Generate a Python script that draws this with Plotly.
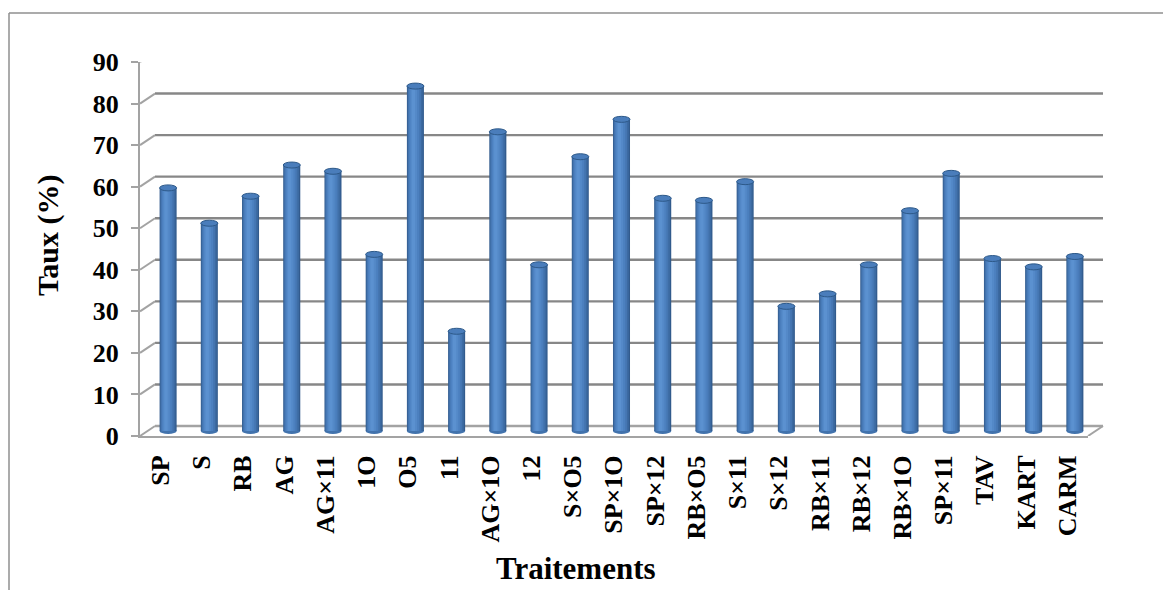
import plotly.graph_objects as go

# Germination rate per treatment
categories = ["SP", "S", "RB", "AG", "AG×11", "1O", "O5", "11", "AG×1O", "12",
              "S×O5", "SP×1O", "SP×12", "RB×O5", "S×11", "S×12", "RB×11", "RB×12",
              "RB×1O", "SP×11", "TAV", "KART", "CARM"]
taux = [58.5, 50, 56.5, 64, 62.5, 42.5, 83, 24, 72, 40,
        66, 75, 56, 55.5, 60, 30, 33, 40,
        53, 62, 41.5, 39.5, 42]
y_ticks = [0, 10, 20, 30, 40, 50, 60, 70, 80, 90]

W, H = 1163, 590
FONT = "Liberation Serif"

# pixel geometry of the pseudo-3D frame
FX0, FX1 = 140, 1088        # front plane (axes)
FY_TOP, FY_BOT = 62, 436
DX, DY = 15, 10             # depth offset of the back wall
px_per_unit = (FY_BOT - FY_TOP) / 90.0


def px_x(p):
    return p / W


def px_y(p):
    return 1 - p / H


fig = go.Figure()

# cylinder columns: stacked layers give a rounded shading
n = len(categories)
xs = list(range(n))
bar_w = 0.413
layers = [
    (bar_w, 0.0, "#325b8d"),
    (0.37, -0.008, "#3c6aa1"),
    (0.31, -0.02, "#4576b2"),
    (0.24, -0.03, "#4c80bf"),
    (0.16, -0.04, "#5489c8"),
    (0.08, -0.05, "#5b91d0"),
]
for w, c, col in layers:
    fig.add_trace(go.Bar(
        x=xs, y=taux, width=w, offset=c - w / 2,
        marker=dict(color=col, line=dict(width=0)),
        xaxis="x3", yaxis="y3", hoverinfo="skip", showlegend=False,
    ))

shapes = []
# bottom curve and top cap of every cylinder
for i, v in enumerate(taux):
    shapes.append(dict(type="circle", xref="x3", yref="y3", ysizemode="pixel",
                       yanchor=0, y0=-3, y1=3,
                       x0=i - bar_w / 2, x1=i + bar_w / 2,
                       fillcolor="#4273ad", line=dict(width=0), layer="below"))
    shapes.append(dict(type="circle", xref="x3", yref="y3", ysizemode="pixel",
                       yanchor=v, y0=-3, y1=3,
                       x0=i - bar_w / 2, x1=i + bar_w / 2,
                       fillcolor="#4a7dbb", line=dict(color="#2d5989", width=1),
                       layer="above"))

GRID = "#878787"
EDGE = "#a3a3a3"
# back-wall gridlines and the depth diagonals from the front axis
for t in y_ticks:
    shapes.append(dict(type="line", xref="paper", yref="y", ysizemode="pixel",
                       yanchor=t, x0=px_x(FX0 + DX), x1=px_x(FX1 + DX), y0=DY, y1=DY,
                       line=dict(color=GRID if t else EDGE, width=2.4), layer="below"))
    shapes.append(dict(type="line", xref="paper", yref="y", ysizemode="pixel",
                       yanchor=t, x0=px_x(FX0), x1=px_x(FX0 + DX), y0=0, y1=DY,
                       line=dict(color=EDGE, width=2), layer="below"))
# right edge of the floor
shapes.append(dict(type="line", xref="paper", yref="y", ysizemode="pixel",
                   yanchor=0, x0=px_x(FX1), x1=px_x(FX1 + DX), y0=0, y1=DY,
                   line=dict(color=EDGE, width=2), layer="below"))
# chart frame
shapes.append(dict(type="line", xref="paper", yref="paper",
                   x0=px_x(9), x1=1.02, y0=px_y(13), y1=px_y(13),
                   line=dict(color="#8f8f8f", width=1.5)))
shapes.append(dict(type="line", xref="paper", yref="paper",
                   x0=px_x(9), x1=px_x(9), y0=px_y(13), y1=-0.05,
                   line=dict(color="#8f8f8f", width=1.5)))

tick_font = dict(family=FONT, size=26, color="black", weight=700)
mid_bot = FY_BOT - DY / 2 + 10   # extend the column plane a little below zero

fig.update_layout(
    width=W, height=H,
    margin=dict(l=0, r=0, t=0, b=0, autoexpand=False),
    paper_bgcolor="white", plot_bgcolor="rgba(0,0,0,0)",
    barmode="overlay",
    showlegend=False,
    xaxis=dict(domain=[px_x(FX0), px_x(FX1)], anchor="y", type="linear",
               range=[-0.5, n - 0.5], tickmode="array",
               tickvals=xs, ticktext=categories, tickangle=-90,
               tickfont=tick_font, ticks="", ticklabelstandoff=7,
               showgrid=False, zeroline=False,
               showline=True, linecolor=EDGE, linewidth=2, automargin=False),
    xaxis2=dict(domain=[px_x(FX0), px_x(FX1)], anchor="y", overlaying="x",
                range=[-0.5, n - 0.5], tickmode="array",
                tickvals=[i - 0.5 for i in range(n + 1)], showticklabels=False,
                ticks="outside", ticklen=7, tickwidth=2, tickcolor=EDGE,
                showgrid=False, zeroline=False, showline=False, automargin=False),
    yaxis=dict(domain=[px_y(FY_BOT), px_y(FY_TOP)], anchor="x",
               range=[0, 90], tickvals=y_ticks, tickfont=tick_font,
               ticks="outside", ticklen=7, tickwidth=2, tickcolor=EDGE,
               ticklabelstandoff=7,
               showgrid=False, zeroline=False, automargin=False,
               showline=True, linecolor=EDGE, linewidth=2),
    xaxis3=dict(domain=[px_x(FX0 + DX / 2), px_x(FX1 + DX / 2)], anchor="y3",
                range=[-0.5, n - 0.5], visible=False),
    yaxis3=dict(domain=[px_y(mid_bot), px_y(FY_TOP - DY / 2)], anchor="x3",
                range=[-(mid_bot - (FY_BOT - DY / 2)) / px_per_unit, 90],
                visible=False),
    shapes=shapes,
    annotations=[
        dict(text="<b>Taux (%)</b>", xref="paper", yref="paper",
             x=px_x(48), y=px_y(236), xanchor="center", yanchor="middle",
             textangle=-90, showarrow=False,
             font=dict(family=FONT, size=30, color="black")),
        dict(text="<b>Traitements</b>", xref="paper", yref="paper",
             x=px_x(576), y=px_y(568), xanchor="center", yanchor="middle",
             showarrow=False,
             font=dict(family=FONT, size=31, color="black")),
    ],
)

fig.write_html("out.html")
